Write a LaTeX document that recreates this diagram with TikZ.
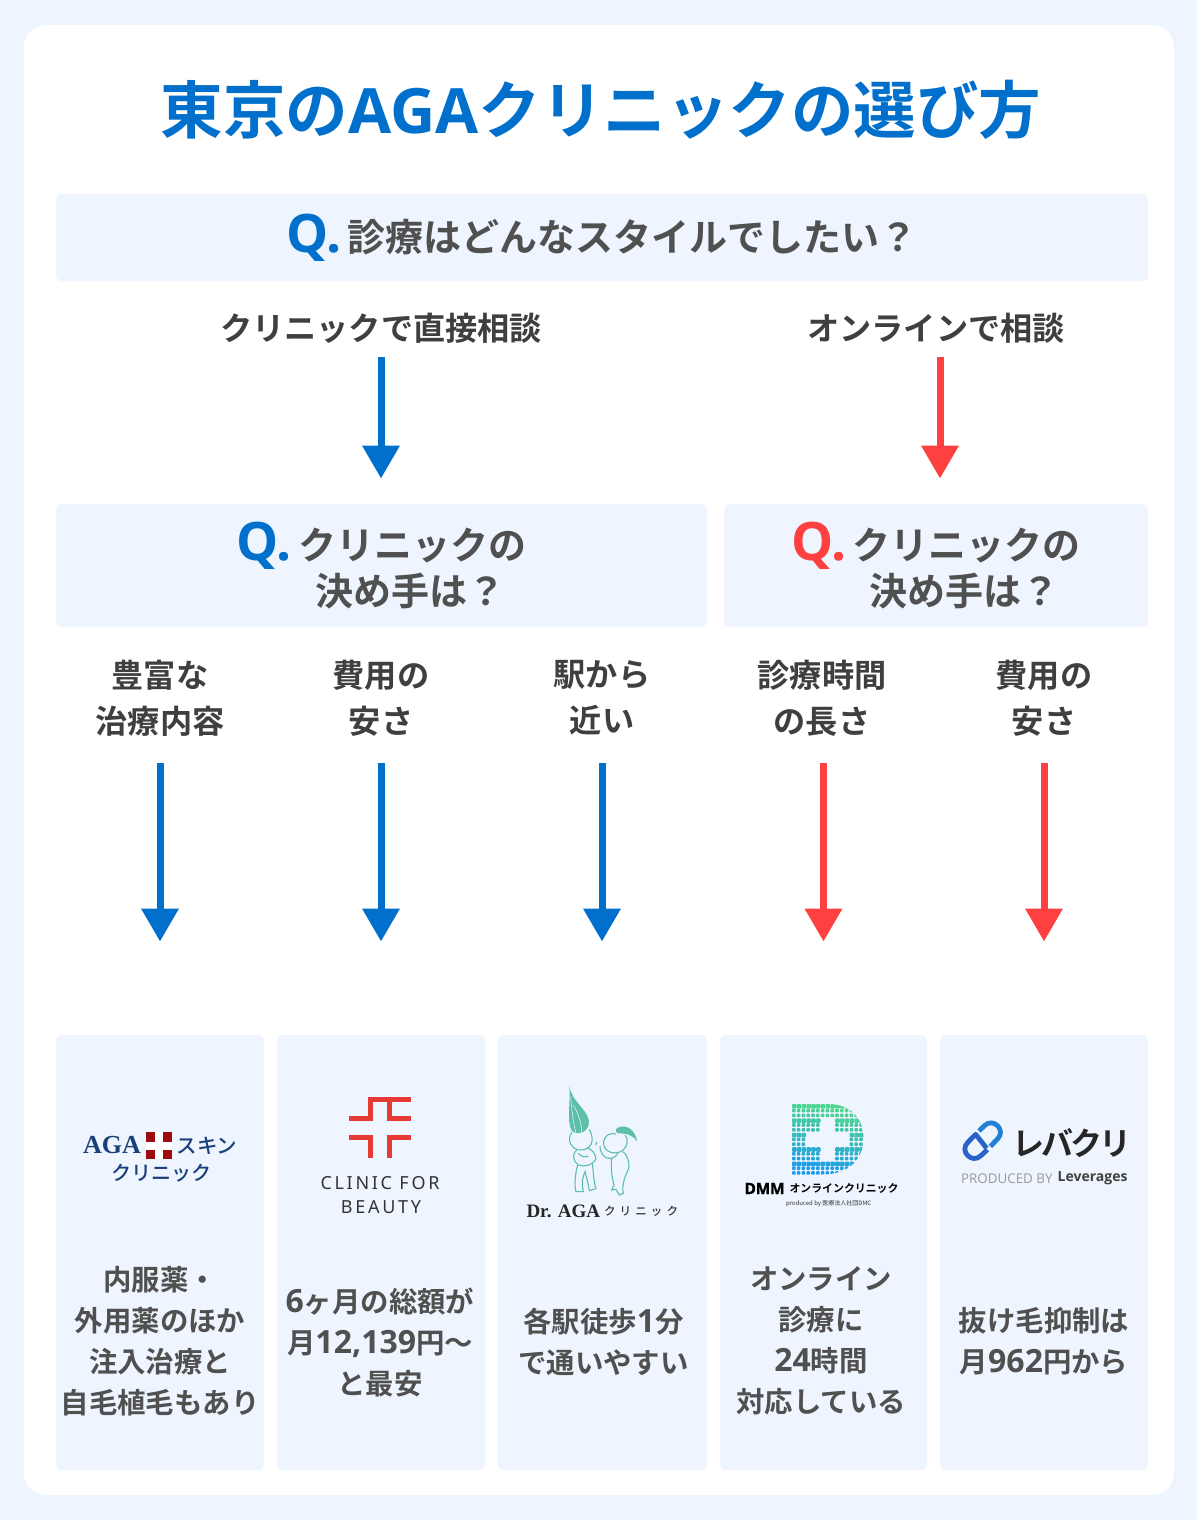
\documentclass[tikz,border=0pt]{standalone}
\usepackage{fontspec}
\setmainfont{Noto Sans CJK JP}[BoldFont={Noto Sans CJK JP Medium}]
\newfontfamily\jpb{Noto Sans CJK JP Bold}
\newfontfamily\lserif{Liberation Serif}
\newfontfamily\lsans{Open Sans}
\newfontfamily\nsans{Noto Sans}
\newcommand{\nsansb}{\lsans\bfseries}
\usetikzlibrary{arrows.meta}
\definecolor{pagebg}{HTML}{EEF5FE}
\definecolor{bluec}{HTML}{0070CC}
\definecolor{redc}{HTML}{FF4040}
\definecolor{inkc}{HTML}{3F3F3F}
\definecolor{graytext}{HTML}{505050}
\definecolor{navyc}{HTML}{1B3F7A}
\definecolor{crossc}{HTML}{9E0B0F}
\definecolor{beautyc}{HTML}{E53935}
\definecolor{tealc}{HTML}{5CBFA8}
\definecolor{capc}{HTML}{2A62C9}
\definecolor{dtop}{HTML}{4FD88F}
\definecolor{dbot}{HTML}{1E9BEA}
\newcommand{\fs}[2]{\fontsize{#1}{#2}\selectfont}
\newcommand{\dg}[1]{{\nsansb\fontsize{32}{41}\selectfont #1}}
\newcommand{\qm}[1]{\raisebox{-1pt}{\nsansb\fontsize{53}{47}\selectfont\color{#1}Q.}\hspace{6pt}}
\tikzset{
  panel/.style={fill=pagebg,rounded corners=6pt,inner sep=0pt,outer sep=0pt,text=graytext,font=\jpb\fs{38}{47},align=center},
  choice/.style={inner sep=0pt,outer sep=0pt,text=inkc,font=\jpb\fs{32.2}{46},align=center},
  cardtext/.style={inner sep=0pt,outer sep=0pt,text=graytext,font=\jpb\fs{28.4}{41},align=center},
  bluearrow/.style={draw=bluec,line width=7pt,-{Triangle[width=36pt,length=33pt]}},
  redarrow/.style={draw=redc,line width=7pt,-{Triangle[width=36pt,length=33pt]}},
  logotext/.style={inner sep=0pt,outer sep=0pt},
}
\begin{document}
\begin{tikzpicture}[x=1pt,y=-1pt]
\useasboundingbox (0,0) rectangle (1197,1520);
\fill[pagebg] (0,0) rectangle (1197,1520);
\fill[white,rounded corners=22pt] (24,25) rectangle (1174,1495);

\node[inner sep=0pt,text=bluec,font=\jpb\fs{62.5}{70}] (title) at (601,110) {東京の{\nsansb AGA}クリニックの選び方};

\node[panel,minimum width=1092pt,minimum height=87pt] (q1) at (602,237.5) {\raisebox{-1.5pt}{\qm{bluec}\jpb 診療はどんなスタイルでしたい？}};

\node[choice,minimum height=58pt] (c1) at (381,328) {クリニックで直接相談};
\node[choice,minimum height=58pt] (c2) at (936,328) {オンラインで相談};

\node[panel,minimum width=651pt,minimum height=123pt] (q2) at (381.5,565.5) {\qm{bluec}クリニックの\\[-1pt]\hspace*{58pt}決め手は？};
\node[panel,minimum width=424pt,minimum height=123pt] (q3) at (936,565.5) {\qm{redc}クリニックの\\[-1pt]\hspace*{56pt}決め手は？};

\draw[bluearrow,shorten >=25.5pt] (c1.south) -- (q2.north -| c1.south);
\draw[redarrow,shorten >=25.5pt] (c2.south -| 940,0) -- (q3.north -| 940,0);

\node[choice,minimum height=130pt] (d1) at (160,698) {豊富な\\治療内容};
\node[choice,minimum height=130pt] (d2) at (381,698) {費用の\\安さ};
\node[choice,minimum height=130pt] (d3) at (602,698) {駅から\\近い};
\node[choice,minimum height=130pt] (d4) at (822,698) {診療時間\\の長さ};
\node[choice,minimum height=130pt] (d5) at (1044,698) {費用の\\安さ};

\node[panel,minimum width=208pt,minimum height=435pt] (k1) at (160,1252.5) {};
\node[panel,minimum width=208pt,minimum height=435pt] (k2) at (381,1252.5) {};
\node[panel,minimum width=209pt,minimum height=435pt] (k3) at (602.5,1252.5) {};
\node[panel,minimum width=207pt,minimum height=435pt] (k4) at (823.5,1252.5) {};
\node[panel,minimum width=208pt,minimum height=435pt] (k5) at (1044,1252.5) {};

\draw[bluearrow,shorten >=93.5pt] (d1.south) -- (k1.north);
\draw[bluearrow,shorten >=93.5pt] (d2.south) -- (k2.north);
\draw[bluearrow,shorten >=93.5pt] (d3.south) -- (k3.north -| d3.south);
\draw[redarrow,shorten >=93.5pt] (d4.south -| k4.north) -- (k4.north);
\draw[redarrow,shorten >=93.5pt] (d5.south) -- (k5.north);

\node[cardtext] (t1) at (160,1341.5) {内服薬・\\外用薬のほか\\注入治療と\\自毛植毛もあり};
\node[cardtext] (t2) at (380,1342) {\dg{6}ヶ月の総額が\\月\dg{12,139}円〜\\と最安};
\node[cardtext] (t3) at (603.5,1341.5) {各駅徒歩\dg{1}分\\で通いやすい};
\node[cardtext] (t4) at (821,1341) {オンライン\\診療に\\\dg{24}時間\\対応している};
\node[cardtext] (t5) at (1044,1341.5) {抜け毛抑制は\\月\dg{962}円から};

% --- AGA skin clinic logo
\node[logotext,anchor=east,text=navyc,font=\lserif\bfseries\fs{26}{30}] (aga) at (141,1145.5) {AGA};
\fill[crossc] (145.7,1132) rectangle (172.3,1159);
\fill[white] (155,1132) rectangle (163,1159);
\fill[white] (145.7,1141.5) rectangle (172.3,1149.5);
\node[logotext,anchor=west,text=navyc,font=\bfseries\fs{20.5}{24}] (sk) at (176.5,1146) {スキン};
\node[logotext,text=navyc,font=\bfseries\fs{20}{24}] (ak) at (161,1173) {クリニック};

% --- Clinic for beauty logo
\draw[beautyc,line width=5pt] (348.7,1118.3) -- (370,1118.3) -- (370,1099.3) -- (410.7,1099.3);
\draw[beautyc,line width=5pt] (389,1099.3) -- (389,1118.3) -- (410.7,1118.3);
\draw[beautyc,line width=5pt] (348.7,1137.3) -- (370,1137.3) -- (370,1158.3);
\draw[beautyc,line width=5pt] (410.7,1137.3) -- (389,1137.3) -- (389,1158.3);
\node[logotext,text=black!80,font=\nsans\fs{18}{24}\addfontfeature{LetterSpace=15}] (cb1) at (380,1183) {CLINIC FOR};
\node[logotext,text=black!80,font=\nsans\fs{18}{24}\addfontfeature{LetterSpace=15}] (cb2) at (381,1207) {BEAUTY};

% --- Dr. AGA logo
\begin{scope}[shift={(510,1070)},scale=1/3]
\fill[tealc] (178,48) .. controls (186,100) and (245,125) .. (236,165) .. controls (230,190) and (195,198) .. (184,180) .. controls (170,150) and (182,100) .. (178,48) -- cycle;
\draw[pagebg,line width=.5pt] (182,80) .. controls (185,120) and (190,160) .. (198,190);
\draw[pagebg,line width=.5pt] (190,105) .. controls (205,130) and (215,160) .. (215,188);
\draw[tealc,line width=1.1pt] (186,186) .. controls (168,210) and (185,240) .. (212,240) .. controls (240,240) and (258,215) .. (238,178);
\draw[tealc,line width=1.1pt] (200,240) .. controls (186,250) and (188,275) .. (205,285) .. controls (225,292) and (248,285) .. (258,268) .. controls (256,250) and (248,240) .. (232,234);
\draw[tealc,line width=1.1pt] (203,285) .. controls (196,310) and (192,345) .. (198,365) -- (220,365) .. controls (214,340) and (218,320) .. (225,305) .. controls (230,325) and (236,345) .. (238,362) -- (258,356) .. controls (250,330) and (250,300) .. (247,280);
\draw[tealc,line width=1.1pt] (205,250) .. controls (215,262) and (225,262) .. (235,258);
\draw[tealc,line width=1.1pt] (318,192) .. controls (290,185) and (275,210) .. (282,228) .. controls (290,250) and (320,255) .. (340,240) .. controls (355,225) and (355,205) .. (345,195);
\fill[tealc] (318,178) .. controls (330,162) and (375,165) .. (381,215) .. controls (370,195) and (350,190) .. (325,190) .. controls (318,188) and (316,184) .. (318,178) -- cycle;
\draw[tealc,line width=1.1pt] (270,228) .. controls (270,250) and (285,270) .. (305,265) .. controls (315,262) and (320,255) .. (325,250);
\draw[tealc,line width=1.1pt] (305,265) .. controls (302,290) and (305,320) .. (312,345) -- (305,360) -- (318,358) -- (328,375) -- (340,370) .. controls (335,345) and (345,320) .. (352,305) .. controls (362,290) and (355,255) .. (338,245);
\fill[tealc] (258,213) -- (262,222) -- (256,226) -- cycle;
\end{scope}
\node[logotext,anchor=west,text=black!85,font=\lserif\bfseries\fs{19}{24}] (dr) at (526.5,1211) {Dr. AGA};
\node[logotext,anchor=west,text=black!80,font=\bfseries\fs{11.5}{24}\addfontfeature{LetterSpace=36}] (drk) at (604,1211) {クリニック};

% --- DMM logo
\begin{scope}
\clip (792,1104) -- (828,1104) .. controls (852,1104) and (863.5,1120) .. (863.5,1138) .. controls (863.5,1158) and (850,1174.5) .. (822,1174.5) -- (792,1174.5) -- cycle;
\foreach \i in {0,...,14}{
  \foreach \j in {0,...,14}{
    \pgfmathtruncatemacro{\pl}{((\i>=6 && \i<=8 && \j>=3 && \j<=11) || (\i>=3 && \i<=11 && \j>=6 && \j<=8)) ? 1 : 0}
    \ifnum\pl=0
      \pgfmathsetmacro{\mixv}{max(0,min(100,100-\j*7.5+(\i-5)*1.5))}
      \pgfmathsetmacro{\sz}{mod(\i*3+\j*5,3)==0 ? 4.6 : 3.6}
      \fill[rounded corners=.9pt,color={dtop!\mixv!dbot}] ({792+\i*4.8},{1104+\j*4.8}) rectangle +(\sz,\sz);
    \fi
  }
}
\end{scope}
\node[logotext,anchor=west,text=black,font=\nsansb\fs{15.5}{18}\addfontfeature{LetterSpace=-2,FakeBold=1}] (dmm) at (744.5,1188.5) {DMM};
\node[logotext,anchor=west,text=black,font=\jpb\fs{10.9}{18}] (dmk) at (789.5,1188.5) {オンラインクリニック};
\node[logotext,anchor=west,text=black!80,font=\fs{6}{6}] (dmp) at (786,1204) {produced by 医療法人社団DMC};

% --- Leverage clinic logo
\begin{scope}[shift={(955,1115)},scale=1/3]
\draw[capc,line width=4.8pt,line join=round] (97,104) -- (77.8,121.8) .. controls (51.4,148.2) and (11.8,108.6) .. (38.2,82.2) -- (62,58) -- (95,100);
\draw[capc!80!cyan,line width=4.8pt,line join=round] (72,48) -- (88.2,32.2) .. controls (114.6,5.8) and (154.2,45.4) .. (127.8,71.8) -- (106,94);
\end{scope}
\node[logotext,anchor=west,text=black!85,font=\jpb\fs{32}{36}\addfontfeature{LetterSpace=-9}] (lev) at (1012,1143) {レバクリ};
\node[logotext,anchor=west,text=black!40,font=\lsans\fs{13.4}{16}] (levp) at (961,1179) {PRODUCED BY};
\node[logotext,anchor=east,text=black!75,font=\nsansb\fs{14}{16}] (levl) at (1127.5,1178) {Leverages};
\end{tikzpicture}
\end{document}
